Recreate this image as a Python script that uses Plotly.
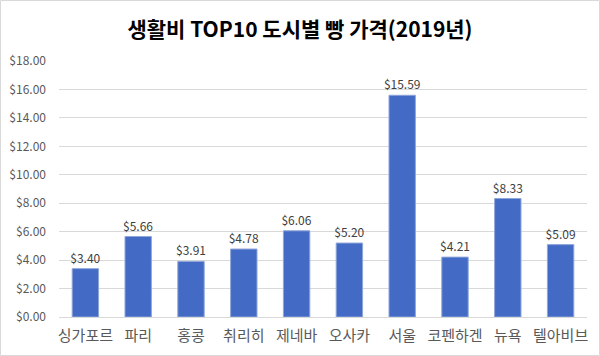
import plotly.graph_objects as go

cities = ["싱가포르", "파리", "홍콩", "취리히", "제네바", "오사카", "서울", "코펜하겐", "뉴욕", "텔아비브"]
prices = [3.40, 5.66, 3.91, 4.78, 6.06, 5.20, 15.59, 4.21, 8.33, 5.09]
y_ticks = [0, 2, 4, 6, 8, 10, 12, 14, 16, 18]
y_tick_labels = ["$%.2f" % v for v in y_ticks]

W, H = 600, 356
ml, mr, mt, mb = 59, 13, 61, 39
pw, ph = W - ml - mr, H - mt - mb

fig = go.Figure()
fig.add_trace(go.Bar(
    x=cities, y=prices,
    marker=dict(color="#436bc6", line=dict(color="#8fa6d8", width=1)),
    texttemplate="$%{y:.2f}", textposition="outside",
    textfont=dict(size=12, color="#404040"),
    constraintext="none",
    cliponaxis=False,
    width=0.5,
))

fig.update_layout(
    width=W, height=H,
    margin=dict(l=ml, r=mr, t=mt, b=mb, autoexpand=False),
    paper_bgcolor="white", plot_bgcolor="white",
    font=dict(family="Noto Sans CJK KR, Noto Sans, sans-serif"),
    title=dict(text="<b>생활비 TOP10 도시별 빵 가격(2019년)</b>",
               x=0.5, xanchor="center", y=1 - 30 / H, yanchor="middle",
               font=dict(size=21, color="#000000")),
    showlegend=False,
    xaxis=dict(showgrid=False, showline=True, linecolor="#d9d9d9", automargin=False,
               tickfont=dict(size=15, color="#595959"), ticks="", ticklabelstandoff=5),
    yaxis=dict(range=[0, 18], tickvals=y_ticks, ticktext=y_tick_labels, automargin=False,
               showgrid=True, gridcolor="#d9d9d9", zeroline=False,
               showline=False, tickfont=dict(size=12, color="#595959"), ticks="",
               ticklabelstandoff=12),
    shapes=[dict(type="rect", xref="paper", yref="paper",
                 x0=(0.5 - ml) / pw, x1=(W - 0.5 - ml) / pw,
                 y0=-(mb - 0.5) / ph, y1=1 + (mt - 0.5) / ph,
                 line=dict(color="#d9d9d9", width=1), fillcolor="rgba(0,0,0,0)")],
)

fig.write_html("out.html", config={"displayModeBar": False},
               post_script="document.body.style.margin='0';document.body.style.overflow='hidden';")
